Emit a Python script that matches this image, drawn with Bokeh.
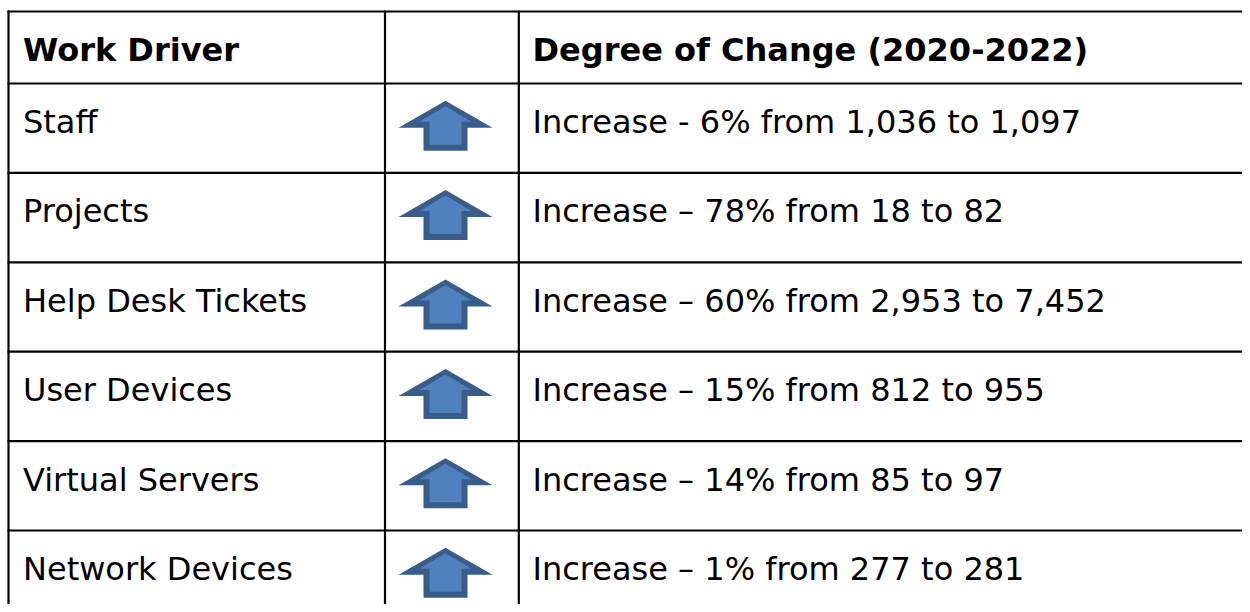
from bokeh.plotting import figure
from bokeh.models import Range1d, ColumnDataSource
from bokeh.core.properties import value
from bokeh.embed import file_html
from bokeh.resources import INLINE

# ---- data ----
headers = ["Work Driver", "", "Degree of Change (2020-2022)"]
drivers = ["Staff", "Projects", "Help Desk Tickets", "User Devices",
           "Virtual Servers", "Network Devices"]
directions = ["Increase", "Increase", "Increase", "Increase", "Increase", "Increase"]
separators = ["-", "\u2013", "\u2013", "\u2013", "\u2013", "\u2013"]
pct_change = [6, 78, 60, 15, 14, 1]
from_vals = [1036, 18, 2953, 812, 85, 277]
to_vals = [1097, 82, 7452, 955, 97, 281]

# ---- layout constants (screen pixels) ----
W, H = 1242, 604
table_top = 11
header_h = 72
row_h = 89.4
col_lines = [8, 384.5, 518.3]
text_x = [22.5, None, 532]
arrow_cx = 445
baseline_off = 38.5
FONT = "DejaVu Sans"
FS = "32px"

p = figure(width=W, height=H, output_backend="svg", toolbar_location=None,
           x_range=Range1d(0, W), y_range=Range1d(H, 0),
           min_border=0)
p.axis.visible = False
p.grid.visible = False
p.outline_line_color = None
p.background_fill_color = "white"
p.border_fill_color = "white"

n = len(drivers)
row_tops = [table_top + header_h + i * row_h for i in range(n)]
hlines = [table_top] + row_tops
bottom = H + 10

# grid lines
p.segment(x0=[col_lines[0] - 1] * len(hlines), y0=hlines, x1=[W + 10] * len(hlines), y1=hlines,
          line_color="black", line_width=2.2)
p.segment(x0=col_lines, y0=[table_top - 1] * 3, x1=col_lines, y1=[bottom] * 3,
          line_color="black", line_width=2.2)

# header
hsrc = ColumnDataSource(dict(x=[text_x[0], text_x[2]],
                             y=[table_top + baseline_off] * 2,
                             t=[headers[0], headers[2]]))
p.text(x="x", y="y", text="t", source=hsrc, text_font=value(FONT),
       text_font_size=FS, text_font_style="bold", text_color="black",
       text_baseline="alphabetic", text_align="left")

# body text
labels = [f"{d} {s} {pc}% from {a:,} to {b:,}"
          for d, s, pc, a, b in zip(directions, separators, pct_change, from_vals, to_vals)]
bsrc = ColumnDataSource(dict(
    x1=[text_x[0]] * n, x3=[text_x[2]] * n,
    y=[t + baseline_off for t in row_tops],
    d=drivers, c=labels))
p.text(x="x1", y="y", text="d", source=bsrc, text_font=value(FONT),
       text_font_size=FS, text_color="black", text_baseline="alphabetic")
p.text(x="x3", y="y", text="c", source=bsrc, text_font=value(FONT),
       text_font_size=FS, text_color="black", text_baseline="alphabetic")

# arrows (outer dark shape + inner light shape)
def outer(cy):
    xs = [arrow_cx, arrow_cx + 47, arrow_cx + 22, arrow_cx + 22,
          arrow_cx - 22, arrow_cx - 22, arrow_cx - 47]
    ys = [cy - 26.5, cy + 0.5, cy + 0.5, cy + 23.5, cy + 23.5, cy + 0.5, cy + 0.5]
    return xs, ys

def inner(cy):
    xs = [arrow_cx, arrow_cx + 26, arrow_cx + 16, arrow_cx + 16,
          arrow_cx - 16, arrow_cx - 16, arrow_cx - 26]
    ys = [cy - 21, cy - 5.5, cy - 5.5, cy + 17.5, cy + 17.5, cy - 5.5, cy - 5.5]
    return xs, ys

centers = [t + row_h / 2 - 1 for t in row_tops]
ox, oy = zip(*[outer(c) for c in centers])
ix, iy = zip(*[inner(c) for c in centers])
p.patches(xs=list(ox), ys=list(oy), fill_color="#385D8A", line_color=None)
p.patches(xs=list(ix), ys=list(iy), fill_color="#4F81BD", line_color=None)

open("out.html", "w").write(file_html(p, INLINE))
